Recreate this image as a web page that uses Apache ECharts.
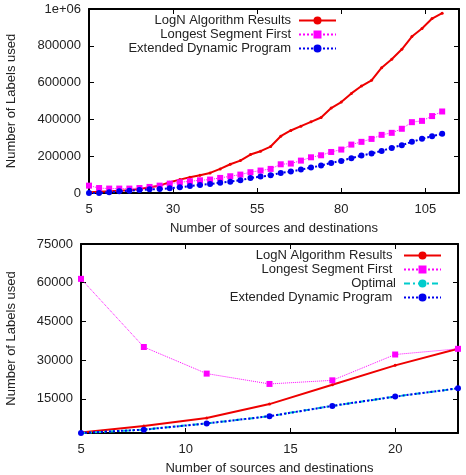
<!DOCTYPE html>
<html>
<head>
<meta charset="utf-8">
<script src="https://cdn.jsdelivr.net/npm/echarts@6/dist/echarts.min.js"></script>
<style>
  html, body { margin: 0; padding: 0; background: #fff; }
  #chart { width: 466px; height: 475px; }
</style>
</head>
<body>
<div id="chart"></div>
<script>
// top panel
const topX = [5, 8, 11, 14, 17, 20, 23, 26, 29, 32, 35, 38, 41, 44, 47, 50, 53, 56,
  59, 62, 65, 68, 71, 74, 77, 80, 83, 86, 89, 92, 95, 98, 101, 104, 107, 110]
const topLogN = [3600, 7300, 9100, 12700, 14500, 21800, 30900, 40000, 58100, 72700,
  85400, 96300, 109000, 130800, 156200, 176200, 208900, 227100, 252500, 308800,
  339700, 363300, 386900, 410500, 461400, 494100, 541300, 581300, 612200, 681200,
  726600, 781100, 850100, 893700, 948200, 977300]
const topLSF = [40000, 27000, 24000, 24000, 24000, 27000, 33000, 40000, 51000, 58000,
  64000, 69000, 73000, 82000, 91000, 100000, 113000, 122000, 131000, 156000,
  160000, 176000, 194000, 205000, 223000, 236000, 263000, 278000, 294000, 316000,
  327000, 349000, 385000, 392000, 418000, 443000]
const topEDP = [0, 0, 3600, 9000, 12700, 16300, 20000, 21800, 25400, 30900,
  38100, 43600, 49000, 56300, 61800, 69000, 81700, 89000, 96300, 109000,
  116300, 127200, 138000, 149000, 163500, 174400, 189000, 203500, 214300, 228900,
  245200, 259800, 278000, 294300, 308800, 321500]
const topXTicks = [5, 30, 55, 80, 105]
const topYTicks = [0, 200000, 400000, 600000, 800000, 1000000]

// bottom panel
const botX = [5, 8, 11, 14, 17, 20, 23]
const botLogN = [2000, 4500, 7600, 13000, 20500, 28000, 34400]
const botLSF = [61500, 35100, 24800, 20800, 22200, 32200, 34400]
const botOpt = [1800, 3100, 5500, 8300, 12300, 15900, 19100]
const botEDP = [1800, 3100, 5500, 8300, 12300, 15900, 19100]
const botXTicks = [5, 10, 15, 20]
const botYTicks = [15000, 30000, 45000, 60000, 75000]

const font = 'Liberation Sans, Arial, sans-serif'
const txt = '#222'
const pair = (xs, ys) => xs.map((x, i) => [x, ys[i]])

function xAx(grid, min, max, ticks, pos, name) {
  const main = pos === 'bottom'
  return {
    type: 'value', gridIndex: grid, position: pos, min: min, max: max,
    name: main ? name : '', nameLocation: 'middle', nameGap: 29,
    nameTextStyle: { color: txt, fontSize: 13, fontFamily: font },
    axisLine: { show: true, onZero: false, lineStyle: { color: '#000', width: 2 } },
    axisTick: { show: true, inside: true, length: 5, customValues: ticks, lineStyle: { color: '#000' } },
    axisLabel: { show: main, customValues: ticks, margin: 10, color: txt, fontSize: 13, fontFamily: font },
    splitLine: { show: false }
  }
}

function yAx(grid, min, max, ticks, pos, gap, fmt) {
  const main = pos === 'left'
  return {
    type: 'value', gridIndex: grid, position: pos, min: min, max: max,
    name: main ? 'Number of Labels used' : '', nameLocation: 'middle', nameGap: gap,
    nameTextStyle: { color: txt, fontSize: 13, fontFamily: font },
    axisLine: { show: true, onZero: false, lineStyle: { color: '#000', width: 2 } },
    axisTick: { show: true, inside: true, length: 5, customValues: ticks, lineStyle: { color: '#000' } },
    axisLabel: { show: main, customValues: ticks, margin: 8, color: txt, fontSize: 13, fontFamily: font,
      formatter: fmt || (v => String(v)) },
    splitLine: { show: false }
  }
}

const fmtTop = v => v === 1000000 ? '1e+06' : String(v)

const legendBase = {
  orient: 'vertical', align: 'right', padding: 0,
  itemWidth: 37, itemHeight: 10, itemGap: 1,
  textStyle: { color: txt, fontSize: 13, fontFamily: font, lineHeight: 13, padding: [0, 3, 0, 0] }
}

const option = {
  animation: false,
  grid: [
    { left: 89, top: 9, right: 7, height: 184, outerBoundsMode: 'none', containLabel: false },
    { left: 81, top: 244, right: 8, height: 189, outerBoundsMode: 'none', containLabel: false }
  ],
  legend: [
    Object.assign({}, legendBase, { right: 129, top: 14,
      data: ['LogN Algorithm Results', 'Longest Segment First', 'Extended Dynamic Program'] }),
    Object.assign({}, legendBase, { right: 24, top: 249,
      data: ['LogN Algorithm Results ', 'Longest Segment First ', 'Optimal', 'Extended Dynamic Program '] })
  ],
  xAxis: [
    xAx(0, 5, 115, topXTicks, 'bottom', 'Number of sources and destinations'),
    xAx(0, 5, 115, topXTicks, 'top'),
    xAx(1, 5, 23, botXTicks, 'bottom', 'Number of sources and destinations'),
    xAx(1, 5, 23, botXTicks, 'top')
  ],
  yAxis: [
    yAx(0, 0, 1000000, topYTicks, 'left', 71, fmtTop),
    yAx(0, 0, 1000000, topYTicks, 'right'),
    yAx(1, 1800, 75000, botYTicks, 'left', 63),
    yAx(1, 1800, 75000, botYTicks, 'right')
  ],
  series: [
    { name: 'LogN Algorithm Results', type: 'line', xAxisIndex: 0, yAxisIndex: 0,
      data: pair(topX, topLogN), symbol: 'circle', symbolSize: 3,
      lineStyle: { color: '#ee0000', width: 2 }, itemStyle: { color: '#ee0000' } },
    { name: 'Longest Segment First', type: 'line', xAxisIndex: 0, yAxisIndex: 0,
      data: pair(topX, topLSF), symbol: 'rect', symbolSize: 6,
      lineStyle: { color: '#ff00ff', width: 1, type: 'dotted' }, itemStyle: { color: '#ff00ff' } },
    { name: 'Extended Dynamic Program', type: 'line', xAxisIndex: 0, yAxisIndex: 0,
      data: pair(topX, topEDP), symbol: 'circle', symbolSize: 6,
      lineStyle: { color: '#0000ee', width: 2, type: 'dotted' }, itemStyle: { color: '#0000ee' } },

    { name: 'LogN Algorithm Results ', type: 'line', xAxisIndex: 2, yAxisIndex: 2,
      data: pair(botX, botLogN), symbol: 'circle', symbolSize: 3,
      lineStyle: { color: '#ee0000', width: 2 }, itemStyle: { color: '#ee0000' } },
    { name: 'Longest Segment First ', type: 'line', xAxisIndex: 2, yAxisIndex: 2,
      data: pair(botX, botLSF), symbol: 'rect', symbolSize: 6,
      lineStyle: { color: '#ff00ff', width: 1, type: 'dotted' }, itemStyle: { color: '#ff00ff' } },
    { name: 'Optimal', type: 'line', xAxisIndex: 2, yAxisIndex: 2,
      data: pair(botX, botOpt), symbol: 'circle', symbolSize: 4,
      lineStyle: { color: '#00cccc', width: 2, type: [6, 3, 2, 3] }, itemStyle: { color: '#00cccc' } },
    { name: 'Extended Dynamic Program ', type: 'line', xAxisIndex: 2, yAxisIndex: 2,
      data: pair(botX, botEDP), symbol: 'circle', symbolSize: 6,
      lineStyle: { color: '#0000ee', width: 2, type: 'dotted' }, itemStyle: { color: '#0000ee' } }
  ]
}

const chart = echarts.init(document.getElementById('chart'))
chart.setOption(option)
</script>
</body>
</html>
